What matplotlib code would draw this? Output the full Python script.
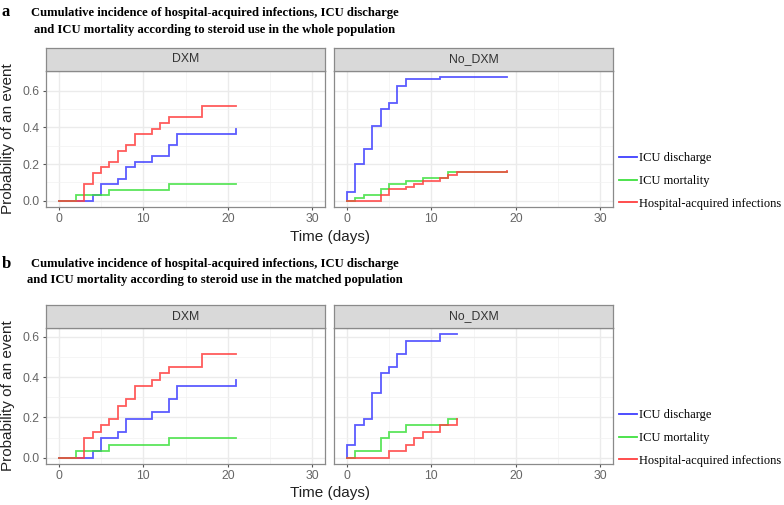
import matplotlib
matplotlib.use("Agg")
import matplotlib.pyplot as plt
from matplotlib.lines import Line2D

# ---------------- data ----------------
series_labels = ["ICU discharge", "ICU mortality", "Hospital-acquired infections"]
series_colors = ["#3F3FFF", "#3FE03F", "#FF3F3F"]
facet_labels = ["DXM", "No_DXM"]
x_ticks = [0, 10, 20, 30]
y_ticks = [0.0, 0.2, 0.4, 0.6]

# (a) whole population
a_dxm_discharge_t = [0, 4, 5, 7, 8, 9, 11, 13, 14, 21, 21]
a_dxm_discharge_p = [0, 0.030, 0.091, 0.121, 0.182, 0.212, 0.242, 0.303, 0.364, 0.364, 0.394]
a_dxm_mortality_t = [0, 2, 6, 13, 21]
a_dxm_mortality_p = [0, 0.030, 0.061, 0.091, 0.091]
a_dxm_hai_t = [0, 3, 4, 5, 6, 7, 8, 9, 11, 12, 13, 17, 21]
a_dxm_hai_p = [0, 0.091, 0.152, 0.182, 0.212, 0.273, 0.303, 0.364, 0.394, 0.424, 0.455, 0.515, 0.515]

a_nodxm_discharge_t = [0, 0, 1, 2, 3, 4, 5, 6, 7, 11, 19]
a_nodxm_discharge_p = [0, 0.047, 0.203, 0.281, 0.406, 0.500, 0.531, 0.625, 0.662, 0.674, 0.674]
a_nodxm_mortality_t = [0, 1, 2, 4, 5, 7, 9, 12, 19]
a_nodxm_mortality_p = [0, 0.016, 0.031, 0.063, 0.094, 0.109, 0.125, 0.156, 0.156]
a_nodxm_hai_t = [0, 4, 5, 7, 8, 9, 11, 12, 13, 19, 19]
a_nodxm_hai_p = [0, 0.031, 0.063, 0.078, 0.094, 0.109, 0.125, 0.141, 0.156, 0.156, 0.164]

# (b) matched population
b_dxm_discharge_t = [0, 4, 5, 7, 8, 11, 13, 14, 21, 21]
b_dxm_discharge_p = [0, 0.032, 0.097, 0.129, 0.194, 0.226, 0.290, 0.355, 0.355, 0.387]
b_dxm_mortality_t = [0, 2, 6, 13, 21]
b_dxm_mortality_p = [0, 0.032, 0.065, 0.097, 0.097]
b_dxm_hai_t = [0, 3, 4, 5, 6, 7, 8, 9, 11, 12, 13, 17, 21]
b_dxm_hai_p = [0, 0.097, 0.129, 0.161, 0.194, 0.258, 0.290, 0.355, 0.387, 0.419, 0.452, 0.516, 0.516]

b_nodxm_discharge_t = [0, 0, 1, 2, 3, 4, 5, 6, 7, 11, 13]
b_nodxm_discharge_p = [0, 0.065, 0.161, 0.194, 0.323, 0.419, 0.452, 0.516, 0.581, 0.613, 0.613]
b_nodxm_mortality_t = [0, 1, 4, 5, 7, 12, 13]
b_nodxm_mortality_p = [0, 0.032, 0.097, 0.129, 0.161, 0.194, 0.194]
b_nodxm_hai_t = [0, 5, 7, 8, 9, 11, 13, 13]
b_nodxm_hai_p = [0, 0.032, 0.065, 0.097, 0.129, 0.161, 0.161, 0.194]

title_a_lines = ["Cumulative incidence of hospital-acquired infections, ICU discharge",
                 "and ICU mortality according to steroid use in the whole population"]
title_b_lines = ["Cumulative incidence of hospital-acquired infections, ICU discharge",
                 "and ICU mortality according to steroid use in the matched population"]

panels = {
    "a": [
        [(a_dxm_discharge_t, a_dxm_discharge_p), (a_dxm_mortality_t, a_dxm_mortality_p), (a_dxm_hai_t, a_dxm_hai_p)],
        [(a_nodxm_discharge_t, a_nodxm_discharge_p), (a_nodxm_mortality_t, a_nodxm_mortality_p), (a_nodxm_hai_t, a_nodxm_hai_p)],
    ],
    "b": [
        [(b_dxm_discharge_t, b_dxm_discharge_p), (b_dxm_mortality_t, b_dxm_mortality_p), (b_dxm_hai_t, b_dxm_hai_p)],
        [(b_nodxm_discharge_t, b_nodxm_discharge_p), (b_nodxm_mortality_t, b_nodxm_mortality_p), (b_nodxm_hai_t, b_nodxm_hai_p)],
    ],
}

# ---------------- layout ----------------
W, H = 784, 505
fig = plt.figure(figsize=(W / 100, H / 100), dpi=100)
fig.patch.set_facecolor("white")

def fx(px):
    return px / W

def fy(py):
    return 1 - py / H

def rect(x0, y0, x1, y1):
    return [fx(x0), fy(y1), fx(x1) - fx(x0), fy(y0) - fy(y1)]

serif = ["Liberation Serif", "DejaVu Serif"]
sans = ["Liberation Sans", "DejaVu Sans"]

blocks = [
    # key, title lines, label baseline, title baselines, strip top, panel top, panel bottom, xlabel y, legend center
    ("a", title_a_lines, 16, (16, 33.3), 48, 71, 207, 237, 181),
    ("b", title_b_lines, 268, (267.5, 282.5), 305, 328, 464, 493, 438),
]
panel_x = [(46, 325), (334, 613)]

for key, tlines, ly, tys, strip_top, ptop, pbot, xlab_y, leg_c in blocks:
    fig.text(fx(2), fy(ly), key, fontsize=12, fontweight="bold", family=serif,
             ha="left", va="baseline")
    for line, tyy in zip(tlines, tys):
        fig.text(fx(215), fy(tyy), line, fontsize=9.1, fontweight="bold", family=serif,
                 ha="center", va="baseline")
    data = panels[key]
    ymax = max(max(p) for facet in data for (_, p) in facet)
    handles = []
    for fi, (x0, x1) in enumerate(panel_x):
        ax = fig.add_axes(rect(x0, ptop, x1, pbot))
        ax.set_facecolor("white")
        for s, (t, p) in enumerate(data[fi]):
            ax.step(t, p, where="post", color=series_colors[s], lw=1.3,
                    alpha=0.85, zorder=2 + s, solid_joinstyle="miter")
            if fi == 1:
                handles.append(Line2D([], [], color=series_colors[s], lw=1.3))
        ax.set_xlim(-1.5, 31.5)
        ax.set_ylim(-0.05 * ymax, 1.05 * ymax)
        ax.set_xticks(x_ticks)
        ax.set_yticks(y_ticks)
        ax.set_xticks([5, 15, 25], minor=True)
        ax.set_yticks([0.1, 0.3, 0.5], minor=True)
        ax.grid(True, which="major", color="#EBEBEB", lw=1.0, zorder=0)
        ax.grid(True, which="minor", color="#F2F2F2", lw=0.5, zorder=0)
        ax.set_axisbelow(True)
        ax.tick_params(which="major", length=2.5, width=0.8, color="#555555",
                       labelsize=8.8, labelcolor="#666666", pad=2)
        ax.tick_params(which="minor", length=0)
        for sp in ax.spines.values():
            sp.set_color("#8A8A8A")
            sp.set_linewidth(0.9)
        if fi == 1:
            ax.set_yticklabels([])
            ax.tick_params(axis="y", length=0)
        else:
            ax.set_yticklabels([f"{v:.1f}" for v in y_ticks], family=sans)
        ax.set_xticklabels([str(v) for v in x_ticks], family=sans)
        # strip
        sax = fig.add_axes(rect(x0, strip_top, x1, ptop))
        sax.set_xticks([])
        sax.set_yticks([])
        sax.set_facecolor("#D9D9D9")
        for sp in sax.spines.values():
            sp.set_color("#8A8A8A")
            sp.set_linewidth(0.9)
        sax.text(0.5, 0.5, facet_labels[fi], transform=sax.transAxes, ha="center",
                 va="center", fontsize=8.8, color="#333333", family=sans)
    fig.text(fx(330), fy(xlab_y), "Time (days)", fontsize=11, color="#222222",
             family=sans, ha="center", va="center")
    fig.text(fx(8), fy((ptop + pbot) / 2), "Probability of an event", fontsize=11,
             color="#222222", family=sans, ha="center", va="center", rotation=90)
    fig.legend(handles, series_labels, loc="center left",
               bbox_to_anchor=(fx(619), fy(leg_c)), frameon=False,
               prop={"family": serif, "size": 9.0}, handlelength=1.45,
               handletextpad=0.15, labelspacing=0.85, borderaxespad=0,
               borderpad=0)

fig.savefig("out.png", dpi=100, facecolor="white")
